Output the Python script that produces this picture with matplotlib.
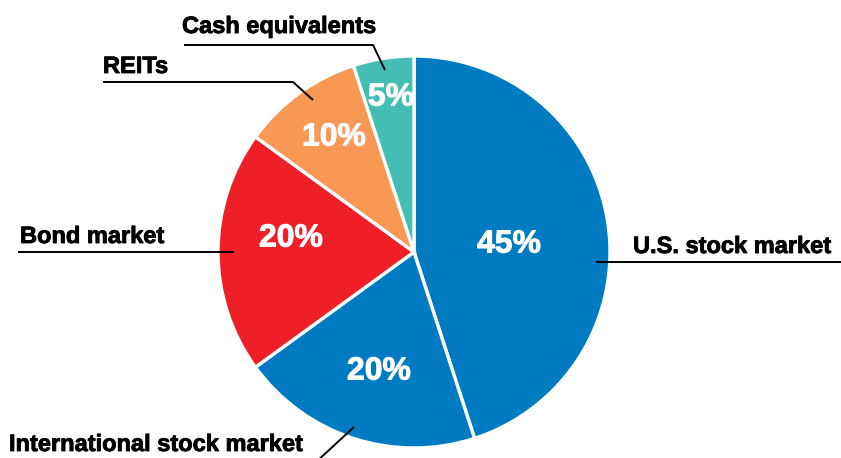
import numpy as np
import matplotlib
matplotlib.use("Agg")
import matplotlib.pyplot as plt
import matplotlib.patheffects as pe

plt.rcParams["font.family"] = ["Liberation Sans", "DejaVu Sans"]

# data
categories = ["U.S. stock market", "International stock market", "Bond market",
              "REITs", "Cash equivalents"]
shares = [45, 20, 20, 10, 5]
colors = ["#007bc2", "#007bc2", "#ee1f26", "#f79854", "#44bdb5"]

W, H = 841, 458

def Y(py):
    # pixel row -> data y
    return H - py

fig = plt.figure(figsize=(W / 100, H / 100), dpi=100)
ax = fig.add_axes([0, 0, 1, 1])

cx, cy, r = 414, Y(252), 196
wedges, _ = ax.pie(shares, colors=colors, startangle=90, counterclock=False,
                   center=(cx, cy), radius=r, frame=True,
                   wedgeprops=dict(edgecolor="white", linewidth=2.4))
ax.set_xlim(0, W)
ax.set_ylim(0, H)
ax.axis("off")

# percent labels inside wedges (pixel centres)
pct_pos = [(509, 241), (379, 368), (291, 235), (334, 134), (391, 94)]
for s, (px, py) in zip(shares, pct_pos):
    ax.text(px, Y(py) - 11.5, f"{s}%", color="white", fontsize=23,
            fontweight="bold", ha="center", va="baseline",
            path_effects=[pe.withStroke(linewidth=0.7, foreground="white")])

# category labels with leader lines
lab_pos = {
    "U.S. stock market": (633, 253),
    "International stock market": (9, 451),
    "Bond market": (20, 243),
    "REITs": (103, 73),
    "Cash equivalents": (182, 33),
}
leaders = {
    "U.S. stock market": [(596, 262), (841, 262)],
    "International stock market": [(315, 463), (354, 427)],
    "Bond market": [(18, 252), (234, 252)],
    "REITs": [(103, 82), (293, 82), (313, 100)],
    "Cash equivalents": [(184, 45), (373, 45), (385, 70)],
}
for c in categories:
    x, y = lab_pos[c]
    ax.text(x, Y(y), c, fontsize=17, fontweight="bold", color="black",
            ha="left", va="baseline",
            path_effects=[pe.withStroke(linewidth=0.6, foreground="black")])
    pts = leaders[c]
    ax.plot([p[0] for p in pts], [Y(p[1]) for p in pts], color="black",
            lw=1.4, solid_capstyle="butt", clip_on=False)

fig.savefig("out.png", dpi=100)
